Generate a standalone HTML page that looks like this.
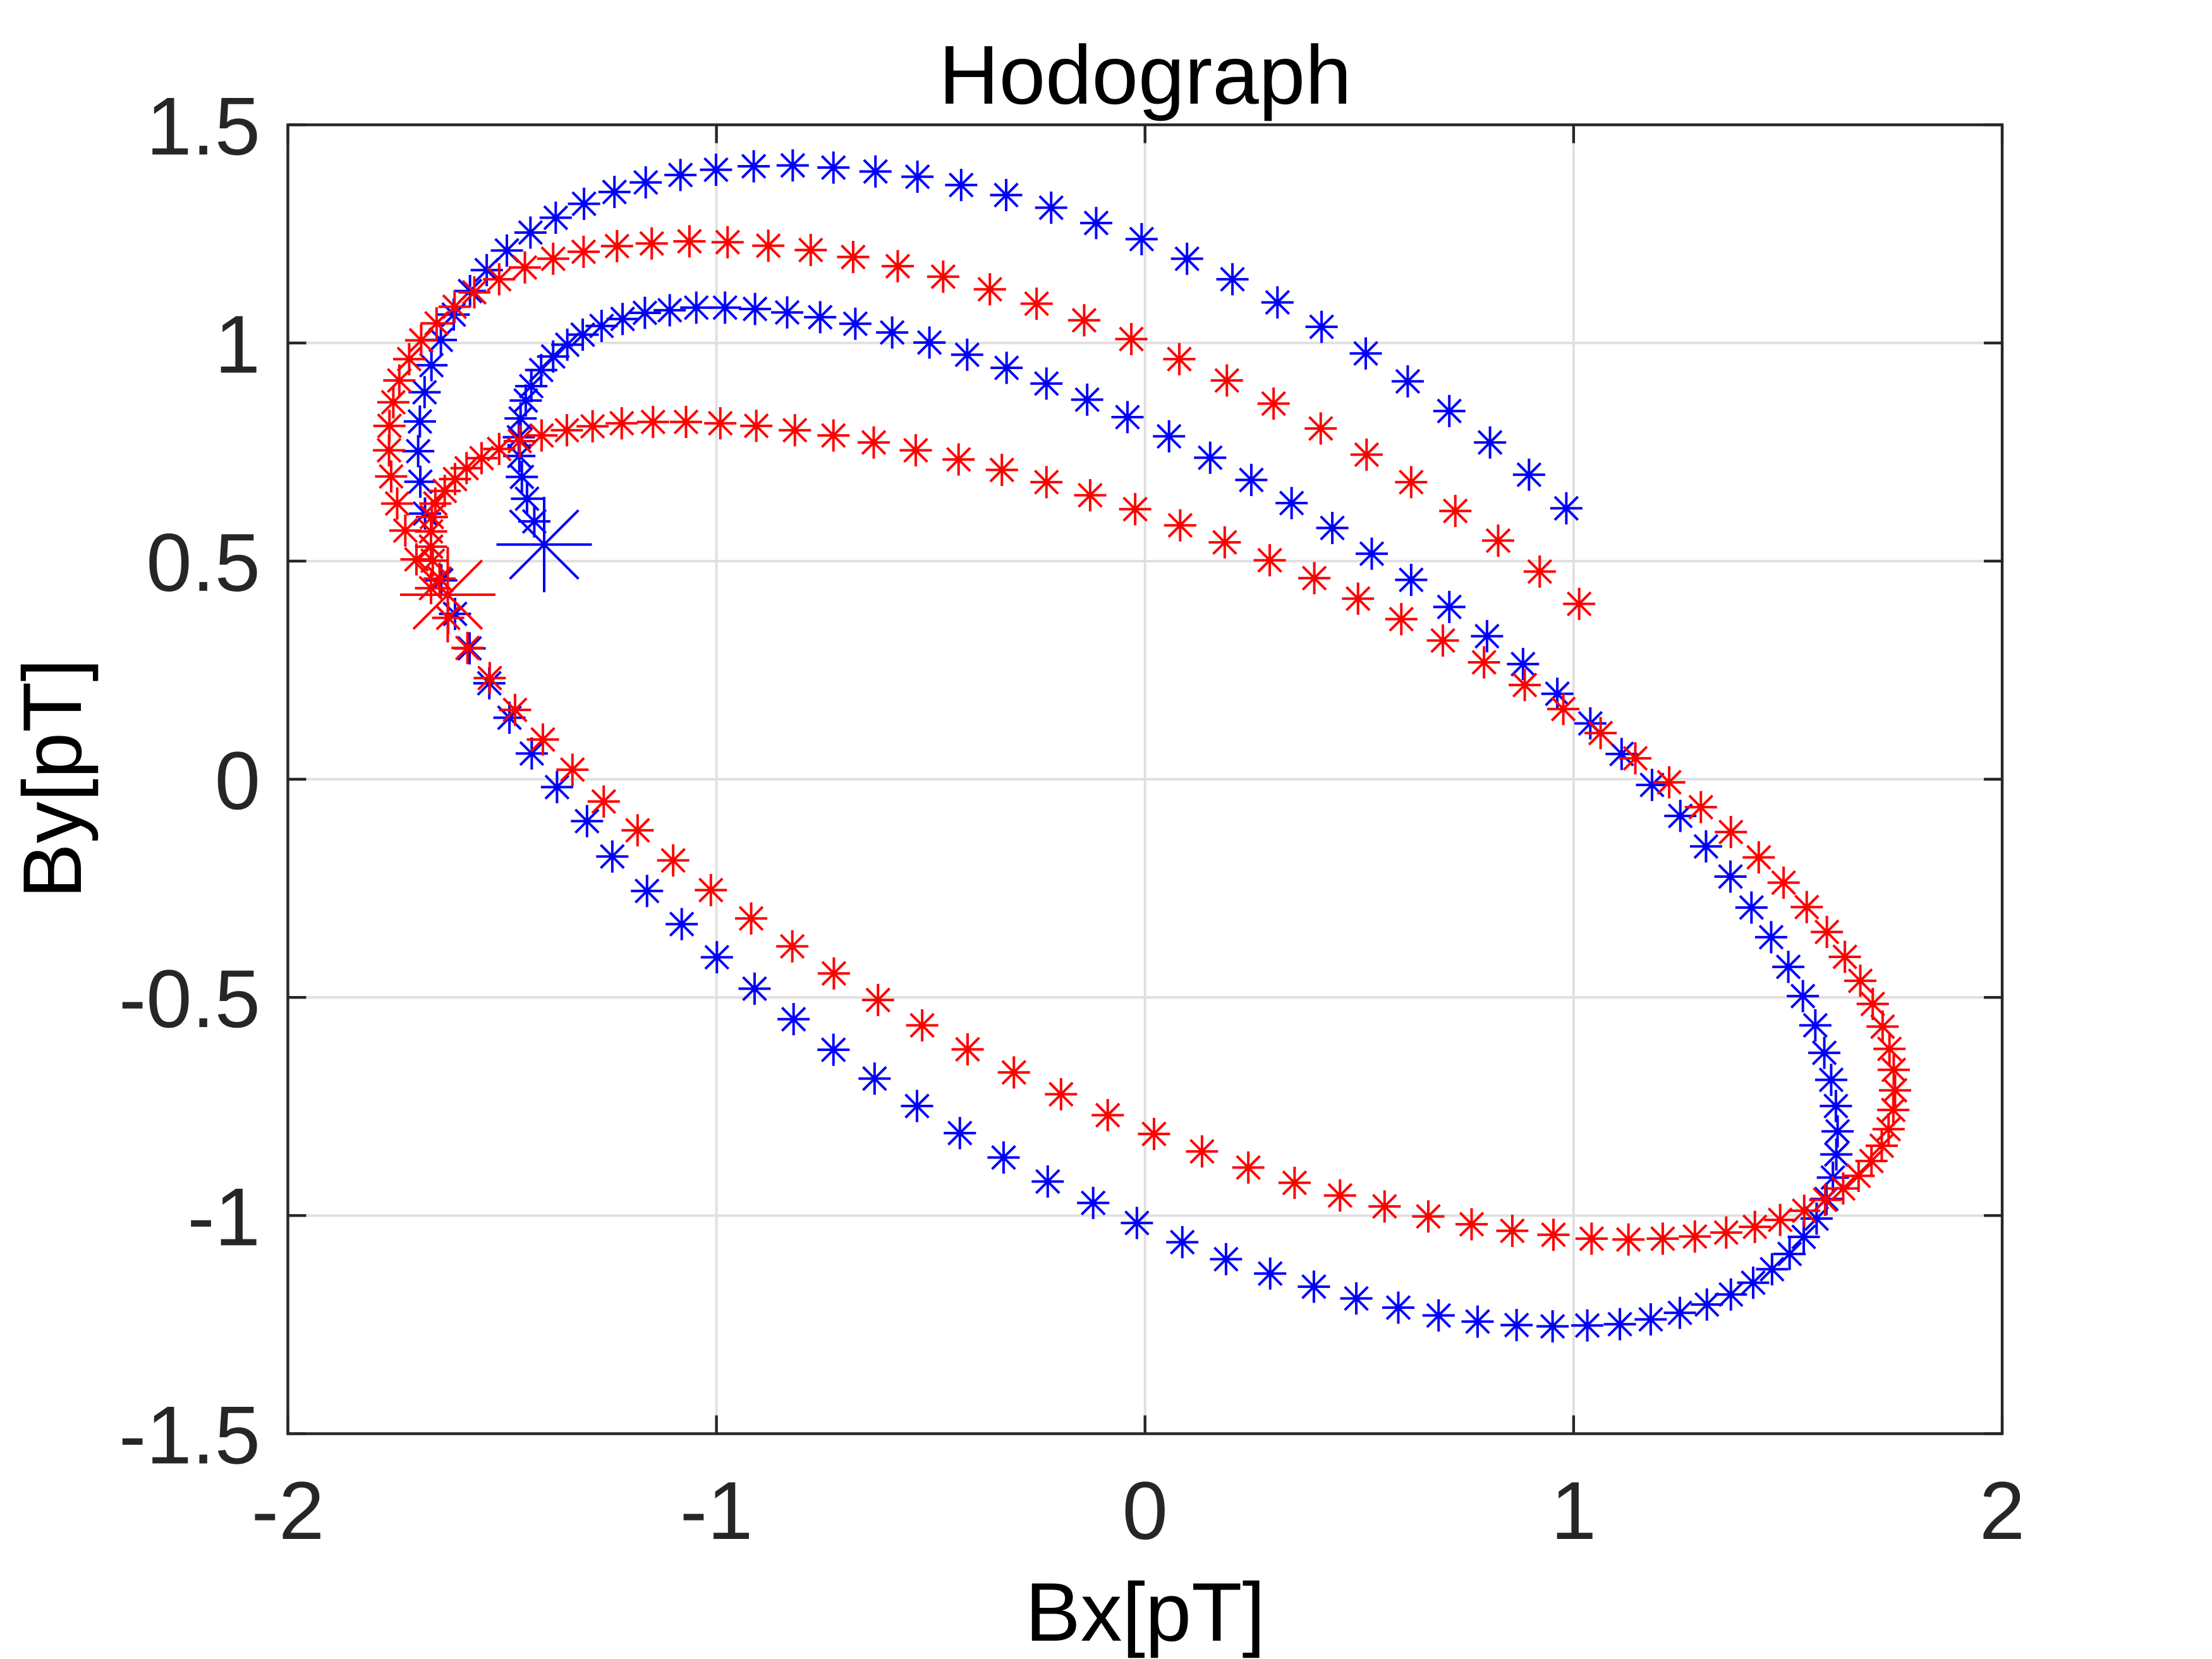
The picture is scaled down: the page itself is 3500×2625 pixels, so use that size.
<!DOCTYPE html>
<html>
<head>
<meta charset="utf-8">
<title>Hodograph</title>
<style>
html,body{margin:0;padding:0;background:#fff;}
svg{display:block;}
text{font-family:"Liberation Sans",Arial,sans-serif;}
</style>
</head>
<body>
<svg id="chart" xmlns="http://www.w3.org/2000/svg" width="3500" height="2625" viewBox="0 0 3500 2625">
<rect x="0" y="0" width="3500" height="2625" fill="#ffffff"/>
</svg>
<script>
const xTicks = [-2, -1, 0, 1, 2];
const yTicks = [-1.5, -1, -0.5, 0, 0.5, 1, 1.5];
const xTickLabels = ["-2", "-1", "0", "1", "2"];
const yTickLabels = ["-1.5", "-1", "-0.5", "0", "0.5", "1", "1.5"];
const chartTitle = "Hodograph";
const xAxisTitle = "Bx[pT]";
const yAxisTitle = "By[pT]";

const blueBx = [-1.402,-1.425,-1.442,-1.454,-1.460,-1.461,-1.457,-1.445,-1.432,-1.409,-1.381,-1.348,-1.312,-1.268,-1.219,-1.167,-1.109,-1.047,-0.980,-0.910,-0.835,-0.758,-0.676,-0.590,-0.503,-0.415,-0.323,-0.230,-0.135,-0.041,0.056,0.152,0.248,0.342,0.437,0.529,0.621,0.710,0.798,0.882,0.962,1.039,1.112,1.183,1.249,1.309,1.366,1.415,1.461,1.501,1.535,1.564,1.585,1.601,1.612,1.616,1.613,1.605,1.590,1.567,1.537,1.504,1.463,1.419,1.367,1.311,1.248,1.180,1.108,1.032,0.951,0.867,0.776,0.685,0.591,0.493,0.394,0.292,0.189,0.087,-0.019,-0.121,-0.227,-0.330,-0.432,-0.532,-0.631,-0.727,-0.820,-0.911,-0.999,-1.081,-1.162,-1.243,-1.302,-1.372,-1.431,-1.483,-1.530,-1.576,-1.610,-1.642,-1.666,-1.680,-1.691,-1.696,-1.692,-1.681,-1.665,-1.643,-1.613,-1.575,-1.536,-1.489,-1.434,-1.375,-1.309,-1.238,-1.165,-1.084,-1.001,-0.913,-0.822,-0.727,-0.629,-0.531,-0.429,-0.324,-0.219,-0.114,-0.008,0.098,0.204,0.309,0.412,0.515,0.613,0.710,0.805,0.896,0.983];
const blueBy = [0.538,0.591,0.643,0.693,0.741,0.784,0.827,0.868,0.901,0.938,0.969,0.996,1.019,1.039,1.055,1.069,1.075,1.081,1.081,1.078,1.070,1.059,1.044,1.024,1.001,0.973,0.943,0.907,0.870,0.830,0.786,0.737,0.686,0.633,0.576,0.517,0.457,0.395,0.328,0.264,0.196,0.128,0.058,-0.013,-0.084,-0.154,-0.223,-0.294,-0.362,-0.430,-0.497,-0.564,-0.627,-0.689,-0.749,-0.807,-0.860,-0.913,-0.962,-1.007,-1.049,-1.088,-1.123,-1.154,-1.181,-1.204,-1.223,-1.238,-1.249,-1.252,-1.254,-1.251,-1.243,-1.229,-1.211,-1.190,-1.163,-1.133,-1.100,-1.061,-1.017,-0.971,-0.922,-0.867,-0.811,-0.749,-0.686,-0.620,-0.550,-0.480,-0.408,-0.332,-0.256,-0.177,-0.096,-0.018,0.059,0.141,0.220,0.300,0.379,0.456,0.533,0.609,0.682,0.752,0.820,0.887,0.949,1.007,1.065,1.119,1.167,1.212,1.253,1.287,1.319,1.346,1.368,1.385,1.397,1.405,1.407,1.402,1.393,1.381,1.362,1.339,1.310,1.275,1.238,1.193,1.146,1.093,1.037,0.976,0.912,0.844,0.772,0.698,0.621];

const redBx = [-1.627,-1.646,-1.662,-1.666,-1.666,-1.664,-1.656,-1.634,-1.610,-1.583,-1.548,-1.507,-1.459,-1.408,-1.349,-1.289,-1.221,-1.148,-1.071,-0.991,-0.907,-0.817,-0.727,-0.633,-0.535,-0.435,-0.334,-0.230,-0.128,-0.023,0.082,0.186,0.291,0.395,0.497,0.598,0.695,0.791,0.886,0.976,1.063,1.144,1.223,1.297,1.367,1.432,1.490,1.544,1.591,1.633,1.669,1.698,1.721,1.737,1.747,1.750,1.746,1.735,1.719,1.695,1.665,1.629,1.587,1.538,1.482,1.423,1.356,1.283,1.208,1.128,1.042,0.953,0.857,0.762,0.661,0.559,0.455,0.349,0.241,0.133,0.021,-0.087,-0.196,-0.306,-0.414,-0.520,-0.623,-0.726,-0.823,-0.919,-1.013,-1.101,-1.184,-1.263,-1.336,-1.405,-1.470,-1.529,-1.581,-1.626,-1.666,-1.700,-1.726,-1.745,-1.759,-1.764,-1.763,-1.754,-1.740,-1.717,-1.689,-1.653,-1.611,-1.565,-1.507,-1.447,-1.381,-1.310,-1.232,-1.151,-1.063,-0.974,-0.879,-0.780,-0.681,-0.577,-0.471,-0.362,-0.253,-0.142,-0.032,0.080,0.191,0.300,0.410,0.517,0.621,0.724,0.824,0.921,1.013];
const redBy = [0.423,0.460,0.501,0.533,0.568,0.601,0.632,0.661,0.688,0.713,0.736,0.757,0.775,0.788,0.800,0.809,0.816,0.819,0.819,0.816,0.810,0.800,0.788,0.772,0.754,0.733,0.709,0.681,0.651,0.619,0.582,0.543,0.502,0.461,0.414,0.367,0.318,0.268,0.216,0.161,0.106,0.048,-0.007,-0.064,-0.121,-0.179,-0.237,-0.293,-0.350,-0.407,-0.462,-0.515,-0.567,-0.618,-0.666,-0.713,-0.758,-0.802,-0.840,-0.875,-0.909,-0.938,-0.964,-0.989,-1.010,-1.026,-1.039,-1.048,-1.053,-1.055,-1.053,-1.044,-1.035,-1.020,-1.002,-0.979,-0.954,-0.925,-0.890,-0.853,-0.813,-0.770,-0.722,-0.672,-0.619,-0.564,-0.506,-0.445,-0.383,-0.319,-0.254,-0.186,-0.117,-0.051,0.022,0.091,0.159,0.232,0.301,0.370,0.438,0.504,0.570,0.632,0.694,0.754,0.810,0.864,0.914,0.963,1.006,1.045,1.083,1.116,1.146,1.173,1.193,1.209,1.222,1.228,1.233,1.231,1.223,1.213,1.197,1.176,1.152,1.123,1.090,1.052,1.009,0.963,0.914,0.861,0.804,0.744,0.681,0.615,0.547,0.476,0.402];

const SVG_NS = "http://www.w3.org/2000/svg";
const svg = document.getElementById("chart");
const plotLeft = 455.5, plotRight = 3168, plotTop = 197.5, plotBottom = 2268.5;
const xMin = -2, xMax = 2, yMin = -1.5, yMax = 1.5;
const axisColor = "#262626", gridColor = "#e0e0e0";

function xScale(v) { return plotLeft + (v - xMin) / (xMax - xMin) * (plotRight - plotLeft); }
function yScale(v) { return plotBottom - (v - yMin) / (yMax - yMin) * (plotBottom - plotTop); }

function make(tag, attrs, parent) {
  const el = document.createElementNS(SVG_NS, tag);
  for (const k in attrs) el.setAttribute(k, attrs[k]);
  parent.appendChild(el);
  return el;
}

const gridGroup = make("g", {stroke: gridColor, "stroke-width": 4, fill: "none"}, svg);


xTicks.forEach(function (t) {
  if (t === xMin || t === xMax) return;
  const line = make("line", {x1: xScale(t), x2: xScale(t), y1: plotTop, y2: plotBottom}, gridGroup);
  
  
});
yTicks.forEach(function (t) {
  if (t === yMin || t === yMax) return;
  const line = make("line", {x1: plotLeft, x2: plotRight, y1: yScale(t), y2: yScale(t)}, gridGroup);
  
  
});

function starPath(cx, cy, r) {
  const d = r * 0.72;
  return "M" + (cx - r) + " " + cy + "H" + (cx + r) +
         "M" + cx + " " + (cy - r) + "V" + (cy + r) +
         "M" + (cx - d) + " " + (cy - d) + "L" + (cx + d) + " " + (cy + d) +
         "M" + (cx - d) + " " + (cy + d) + "L" + (cx + d) + " " + (cy - d);
}

function drawSeries(bx, by, color, seriesName) {
  const g = make("g", {stroke: color, fill: "none"}, svg);
  
  
  bx.forEach(function (v, i) {
    const isStart = i === 0;
    const p = make("path", {
      d: starPath(xScale(v), yScale(by[i]), isStart ? 75.5 : 25.5),
      "stroke-width": 4
    }, g);
    
    
  });
}
drawSeries(blueBx, blueBy, "#0000ff", "blue-series");
drawSeries(redBx, redBy, "#ff0000", "red-series");

const axisGroup = make("g", {stroke: axisColor, "stroke-width": 4.4, fill: "none"}, svg);


const frame = make("rect", {x: plotLeft, y: plotTop, width: plotRight - plotLeft, height: plotBottom - plotTop}, axisGroup);


const tickLen = 29;
xTicks.forEach(function (t) {
  const x = xScale(t);
  const a = make("line", {x1: x, x2: x, y1: plotBottom, y2: plotBottom - tickLen}, axisGroup);
  
  
  const b = make("line", {x1: x, x2: x, y1: plotTop, y2: plotTop + tickLen}, axisGroup);
  
  
});
yTicks.forEach(function (t) {
  const y = yScale(t);
  const a = make("line", {x1: plotLeft, x2: plotLeft + tickLen, y1: y, y2: y}, axisGroup);
  
  
  const b = make("line", {x1: plotRight, x2: plotRight - tickLen, y1: y, y2: y}, axisGroup);
  
  
});

function addText(str, attrs) {
  const t = make("text", attrs, svg);
  t.textContent = str;
  return t;
}
xTicks.forEach(function (t, i) {
  const el = addText(xTickLabels[i], {x: xScale(t), y: 2435, "text-anchor": "middle", "font-size": 130, fill: axisColor});
  
  
});
yTicks.forEach(function (t, i) {
  const el = addText(yTickLabels[i], {x: 412, y: yScale(t) + 47, "text-anchor": "end", "font-size": 130, fill: axisColor});
  
  
});
const titleEl = addText(chartTitle, {x: 1812, y: 164, "text-anchor": "middle", "font-size": 132, fill: "#000000"});


const xLabelEl = addText(xAxisTitle, {x: 1812, y: 2596, "text-anchor": "middle", "font-size": 131.5, fill: "#000000"});


const yLabelEl = addText(yAxisTitle, {x: 0, y: 0, "text-anchor": "middle", "font-size": 131.5, fill: "#000000", transform: "translate(128 1232) rotate(-90)"});


</script>
</body>
</html>
